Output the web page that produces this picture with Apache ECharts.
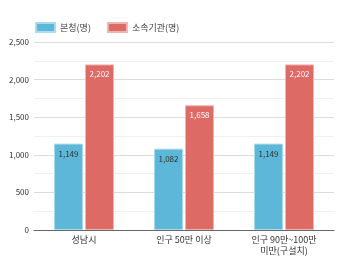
<!DOCTYPE html>
<html>
<head>
<meta charset="utf-8">
<script src="https://cdn.jsdelivr.net/npm/echarts@6/dist/echarts.min.js"></script>
<style>
  html, body { margin: 0; padding: 0; background: #fff; }
  #chart { width: 350px; height: 267px; }
</style>
</head>
<body>
<div id="chart"></div>
<script>
const categories = ['성남시', '인구 50만 이상', '인구 90만~100만\n미만(구설치)']
const seriesNames = ['본청(명)', '소속기관(명)']
const headOffice = [1149, 1082, 1149]
const agencies = [2202, 1658, 2202]
const yTicks = [0, 500, 1000, 1500, 2000, 2500]

const font = '"Noto Sans CJK KR", "Noto Sans", sans-serif'

const chart = echarts.init(document.getElementById('chart'), null, { renderer: 'canvas' })

chart.setOption({
  animation: false,
  textStyle: { fontFamily: font },
  legend: {
    left: 30,
    top: 17,
    itemWidth: 19,
    itemHeight: 9,
    itemGap: 16,
    icon: 'rect',
    textStyle: { fontSize: 9, color: '#444', fontFamily: font }
  },
  grid: { left: 34, right: 16, top: 42, bottom: 37 },
  xAxis: {
    type: 'category',
    data: categories,
    axisLine: { lineStyle: { color: '#666' } },
    axisTick: { show: false },
    axisLabel: { fontSize: 9, color: '#333', lineHeight: 11, margin: 4, interval: 0 }
  },
  yAxis: {
    type: 'value',
    min: yTicks[0],
    max: yTicks[yTicks.length - 1],
    interval: 500,
    axisLine: { show: false },
    axisTick: { show: false },
    axisLabel: {
      fontSize: 8, color: '#333', margin: 5,
      formatter: v => v.toLocaleString('en-US')
    },
    splitLine: { lineStyle: { color: '#dcdcdc' } },
    minorTick: { show: false, splitNumber: 2 },
    minorSplitLine: { show: true, lineStyle: { color: '#f0f0f0' } }
  },
  series: [
    {
      name: seriesNames[0],
      type: 'bar',
      data: headOffice,
      barWidth: 29,
      barGap: '7%',
      itemStyle: { color: '#5db7d8', borderColor: '#a9dcee', borderWidth: 1 },
      label: {
        show: true, position: 'insideTop', distance: 6,
        fontSize: 8, color: '#333',
        formatter: p => p.value.toLocaleString('en-US')
      }
    },
    {
      name: seriesNames[1],
      type: 'bar',
      data: agencies,
      barWidth: 29,
      itemStyle: { color: '#dd6a64', borderColor: '#f2b4b0', borderWidth: 1 },
      label: {
        show: true, position: 'insideTop', distance: 6,
        fontSize: 8, color: '#fff',
        formatter: p => p.value.toLocaleString('en-US')
      }
    }
  ]
})
</script>
</body>
</html>
